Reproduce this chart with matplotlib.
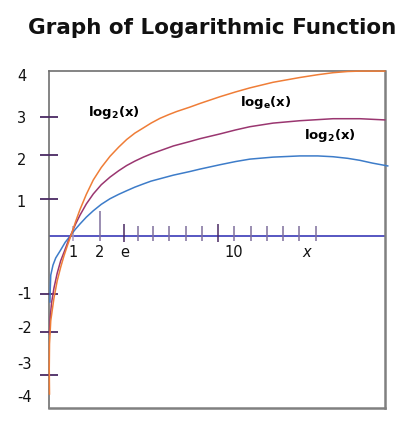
import matplotlib
matplotlib.use("Agg")
import matplotlib.pyplot as plt

# curve points (it is a sketch, not exact log values)
orange_x = [0.02, 0.01, 0.02, 0.07, 0.20, 0.33, 0.47, 0.60, 0.75, 0.91, 1.07, 1.245, 1.50, 1.78, 2.10, 2.45, 2.80, 3.12, 3.45, 3.79,
            4.10, 4.46, 4.80, 5.13, 5.66, 6.06, 6.87, 7.50, 8.07, 9.00, 10.08, 10.80, 11.41, 12.00, 12.49, 13.49]
orange_y = [-3.95, -3.33, -2.70, -2.12, -1.55, -1.12, -0.78, -0.50, -0.22, 0.06, 0.36, 0.66, 1.04, 1.40, 1.71, 1.99, 2.22, 2.41, 2.57, 2.70,
            2.82, 2.94, 3.03, 3.11, 3.22, 3.31, 3.48, 3.60, 3.70, 3.84, 3.96, 4.03, 4.08, 4.11, 4.12, 4.12]

purple_x = [0.02, 0.05, 0.10, 0.20, 0.33, 0.47, 0.62, 0.77, 0.86, 1.07, 1.245, 1.50, 1.78, 2.10, 2.45, 2.80, 3.12, 3.45, 3.79, 4.10,
            4.46, 5.00, 5.66, 6.06, 6.87, 7.50, 8.07, 9.00, 10.08, 11.41, 12.49, 13.49]
purple_y = [-2.45, -2.03, -1.68, -1.30, -0.93, -0.62, -0.38, -0.13, 0.00, 0.30, 0.52, 0.80, 1.05, 1.28, 1.47, 1.63, 1.76, 1.87, 1.97, 2.05,
            2.13, 2.25, 2.36, 2.43, 2.55, 2.65, 2.73, 2.82, 2.88, 2.93, 2.93, 2.90]

blue_x = [0.04, 0.05, 0.07, 0.16, 0.27, 0.45, 0.65, 0.85, 1.05, 1.245, 1.50, 1.78, 2.10, 2.45, 2.80, 3.12, 3.45, 3.79, 4.10, 4.46,
          5.00, 5.66, 6.06, 6.87, 7.50, 8.07, 9.00, 10.08, 10.80, 11.41, 12.00, 12.49, 13.00, 13.61]
blue_y = [-1.65, -1.33, -0.98, -0.73, -0.55, -0.37, -0.16, 0.00, 0.16, 0.30, 0.47, 0.63, 0.79, 0.93, 1.04, 1.13, 1.22, 1.30, 1.37, 1.43,
          1.52, 1.61, 1.67, 1.78, 1.86, 1.92, 1.97, 2.00, 2.00, 1.98, 1.94, 1.89, 1.82, 1.75]

# y axis tick marks and their labels
ytick_pos = [2.98, 2.03, 0.93, -1.44, -2.39, -3.48]
ylabel_text = ["4", "3", "2", "1", "-1", "-2", "-3", "-4"]
ylabel_pos = [4.02, 2.95, 1.90, 0.85, -1.45, -2.30, -3.18, -4.02]

# x axis (the blue line) ticks
xtick_pos = [0.95, 2.03, 3.02, 3.56, 4.19, 4.82, 5.49, 6.13, 6.80, 7.44, 8.10, 8.74, 9.39, 10.06, 10.72]
xlabel_text = ["1", "2", "e", "10", "x"]
xlabel_pos = [0.95, 2.05, 3.05, 7.43, 10.35]

fig = plt.figure(figsize=(4.12, 4.35), dpi=100)
ax = fig.add_axes([49/412, 26/435, 336/412, 337.3/435])
ax.set_xlim(0, 13.5)
ax.set_ylim(-4.3, 4.13)
ax.set_xticks([])
ax.set_yticks([])
for s in ["left", "top"]:
    ax.spines[s].set_color("#707070")
    ax.spines[s].set_linewidth(1.2)
for s in ["right", "bottom"]:
    ax.spines[s].set_color("#808080")
    ax.spines[s].set_linewidth(1.8)

# the horizontal x line
ax.axhline(0, color="#3a3ab8", lw=1.2, zorder=2)

dark = "#4a2a63"
light = "#7f6f9c"
for i, xp in enumerate(xtick_pos):
    top, bot, col = 0.26, -0.12, light
    if i == 0:
        col = "#a89cc0"
    if i == 1:
        top = 0.62
    if i in (2, 8):
        top, bot, col = 0.3, -0.15, dark
    ax.vlines(xp, bot, top, color=col, lw=1.1, zorder=2)

ax.hlines(ytick_pos, -0.36, 0.36, color=dark, lw=1.3, clip_on=False, zorder=3)

ax.plot(blue_x, blue_y, color="#3d7cc9", lw=1.1, clip_on=False, zorder=4)
ax.plot(purple_x, purple_y, color="#9a3670", lw=1.1, clip_on=False, zorder=4)
ax.plot(orange_x, orange_y, color="#ef7d37", lw=1.1, clip_on=False, zorder=4)

for t, yp in zip(ylabel_text, ylabel_pos):
    ax.text(-1.29, yp, t, ha="left", va="center", fontsize=10.5, color="#111111", clip_on=False)

for t, xp in zip(xlabel_text, xlabel_pos):
    st = "italic" if t == "x" else "normal"
    ax.text(xp, -0.38, t, ha="center", va="center", fontsize=10.5, style=st, color="#111111")

ax.text(2.6, 3.12, r"log$_{\mathbf{2}}$(x)", ha="center", va="center", fontsize=9.5, fontweight="bold")
ax.text(8.72, 3.37, r"log$_{\mathbf{e}}$(x)", ha="center", va="center", fontsize=9.5, fontweight="bold")
ax.text(11.3, 2.53, r"log$_{\mathbf{2}}$(x)", ha="center", va="center", fontsize=9.5, fontweight="bold")

fig.text(212.5/412, 1 - 28.5/435, "Graph of Logarithmic Function", ha="center", va="center",
         fontsize=15.5, fontweight="bold", color="#111111")

fig.savefig("out.png", dpi=100)
